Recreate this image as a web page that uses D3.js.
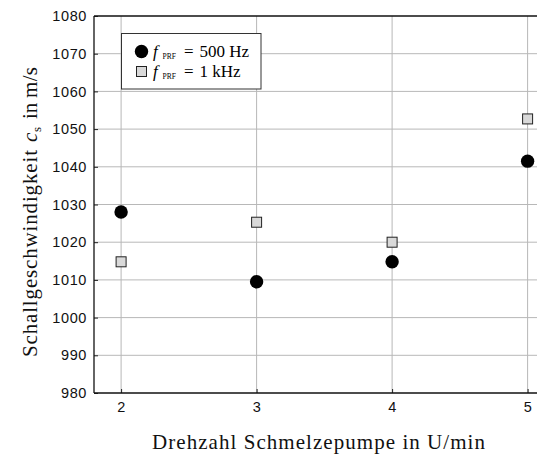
<!DOCTYPE html>
<html><head><meta charset="utf-8">
<script src="https://cdn.jsdelivr.net/npm/d3@7"></script>
<style>body{margin:0;background:#fff}svg{display:block}</style>
</head><body>
<script>
const xValues = [2, 3, 4, 5];
const series500 = [1028, 1009.5, 1014.8, 1041.5];
const series1k = [1014.8, 1025.3, 1020, 1052.7];
const yTicks = [980, 990, 1000, 1010, 1020, 1030, 1040, 1050, 1060, 1070, 1080];
const xTicks = [2, 3, 4, 5];
const legendValues = ["500 Hz", "1 kHz"];

(function () {
const W = 537, H = 454;
const serif = "Liberation Serif, serif";
const svg = d3.select("body").append("svg").attr("width", W).attr("height", H);
const pLeft = 94, pTop = 16, pBottom = 393;
const x = d3.scaleLinear().domain([1.8, 5.2]).range([pLeft, pLeft + 3.4 * 135.5]);
const y = d3.scaleLinear().domain([980, 1080]).range([pBottom, pTop]);

const g = svg.append("g");
g.selectAll(".gy").data(yTicks.slice(1, -1)).join("line")
  .attr("x1", pLeft).attr("x2", W).attr("y1", d => y(d)).attr("y2", d => y(d))
  .attr("stroke", "#b8b8b8").attr("stroke-width", 1);
g.selectAll(".gx").data(xTicks).join("line")
  .attr("x1", d => x(d)).attr("x2", d => x(d)).attr("y1", pTop).attr("y2", pBottom)
  .attr("stroke", "#b8b8b8").attr("stroke-width", 1);

const yAxis = d3.axisLeft(y).tickValues(yTicks).tickSize(-4).tickPadding(7).tickFormat(d3.format("d"));
const ya = svg.append("g").attr("transform", `translate(${pLeft},0)`).call(yAxis);
const xAxis = d3.axisBottom(x).tickValues(xTicks).tickSize(-4).tickPadding(9).tickFormat(d3.format("d"));
const xa = svg.append("g").attr("transform", `translate(0,${pBottom})`).call(xAxis);
[ya, xa].forEach(a => {
  a.select(".domain").remove();
  a.selectAll("text").attr("font-family", "Liberation Sans, Arial, sans-serif").attr("font-size", 14.5)
    .attr("letter-spacing", 0.6).attr("fill", "#111");
  a.selectAll("line").attr("stroke", "#222");
});
svg.append("line").attr("x1", pLeft).attr("x2", W).attr("y1", pTop).attr("y2", pTop).attr("stroke", "#111").attr("stroke-width", 1.3);
svg.append("line").attr("x1", pLeft).attr("x2", W).attr("y1", pBottom).attr("y2", pBottom).attr("stroke", "#111").attr("stroke-width", 1.3);
svg.append("line").attr("x1", pLeft).attr("x2", pLeft).attr("y1", pTop).attr("y2", pBottom).attr("stroke", "#111").attr("stroke-width", 1.3);

svg.selectAll(".c").data(xValues).join("circle")
  .attr("cx", (d) => x(d)).attr("cy", (d, i) => y(series500[i])).attr("r", 6.7).attr("fill", "#000");
const s = 10;
svg.selectAll(".s").data(xValues).join("rect")
  .attr("x", d => x(d) - s / 2).attr("y", (d, i) => y(series1k[i]) - s / 2)
  .attr("width", s).attr("height", s).attr("fill", "#d9d9d9").attr("stroke", "#222").attr("stroke-width", 1);

const lg = svg.append("g");
lg.append("rect").attr("x", 121.5).attr("y", 33.5).attr("width", 139.5).attr("height", 55.5)
  .attr("fill", "#fff").attr("stroke", "#333").attr("stroke-width", 1);
lg.append("circle").attr("cx", 141.5).attr("cy", 51.5).attr("r", 6.7).attr("fill", "#000");
lg.append("rect").attr("x", 136.5).attr("y", 66.5).attr("width", s).attr("height", s).attr("fill", "#d9d9d9").attr("stroke", "#222");
legendValues.forEach((lab, i) => {
  const yy = 57 + i * 20;
  const t = lg.append("text").attr("y", yy)
    .attr("font-family", serif).attr("font-size", 17).attr("fill", "#000");
  t.append("tspan").attr("x", 153).attr("font-style", "italic").text("f");
  t.append("tspan").attr("x", 162.5).attr("font-size", 7.5).attr("y", yy + 2).text("PRF");
  t.append("tspan").attr("x", 184).attr("y", yy).text("=");
  t.append("tspan").attr("x", 199.5).attr("y", yy).text(lab);
});

svg.append("text").attr("x", 152).attr("y", 449)
  .attr("font-family", serif).attr("font-size", 21).attr("fill", "#111")
  .attr("textLength", 333).attr("lengthAdjust", "spacing")
  .text("Drehzahl Schmelzepumpe in U/min");
const yt = svg.append("text").attr("transform", "translate(37,357) rotate(-90)")
  .attr("font-family", serif).attr("font-size", 21).attr("fill", "#111");
yt.append("tspan").attr("x", 0).attr("textLength", 207).attr("lengthAdjust", "spacing").text("Schallgeschwindigkeit");
yt.append("tspan").attr("x", 215).attr("font-style", "italic").text("c");
yt.append("tspan").attr("x", 225).attr("font-size", 13).attr("dy", 4).text("s");
yt.append("tspan").attr("x", 238).attr("dy", -4).text("in");
yt.append("tspan").attr("x", 259).attr("textLength", 31).attr("lengthAdjust", "spacing").text("m/s");
})();
</script>
</body></html>
